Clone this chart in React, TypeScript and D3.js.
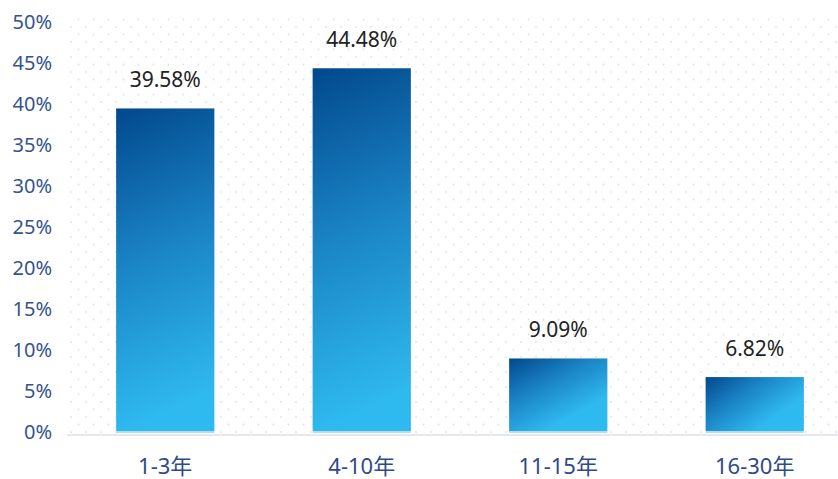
import { useEffect, useRef } from "react";
import * as d3 from "d3";

const categories = ["1-3年", "4-10年", "11-15年", "16-30年"];
const values = [39.58, 44.48, 9.09, 6.82];
const yTicks = [0, 5, 10, 15, 20, 25, 30, 35, 40, 45, 50];

const W = 838,
  H = 479;
const margin = { top: 23, left: 67, bottom: 46 };
const font = "'Noto Sans', 'Noto Sans CJK SC', sans-serif";

function App() {
  const svgRef = useRef(null);

  useEffect(() => {
    const svg = d3.select(svgRef.current);
    svg.selectAll("*").remove();

    const x = d3
      .scaleBand()
      .domain(categories)
      .range([margin.left, margin.left + 4 * 196.5])
      .paddingInner(0.5)
      .paddingOuter(0.25);
    const y = d3
      .scaleLinear()
      .domain([0, 50])
      .range([H - margin.bottom, margin.top]);

    const defs = svg.append("defs");
    const pat = defs
      .append("pattern")
      .attr("id", "dots")
      .attr("patternUnits", "userSpaceOnUse")
      .attr("width", 15)
      .attr("height", 15)
      .attr("x", margin.left + 3)
      .attr("y", margin.top + 3);
    pat.append("circle").attr("cx", 1).attr("cy", 1).attr("r", 0.9).attr("fill", "#dbe0e7");
    pat.append("circle").attr("cx", 8.5).attr("cy", 8.5).attr("r", 0.9).attr("fill", "#dbe0e7");

    // one gradient per bar: tall bars shade top-to-bottom, short ones diagonally
    values.forEach((v, i) => {
      const h = y(0) - y(v);
      const g = defs
        .append("linearGradient")
        .attr("id", "barGrad" + i)
        .attr("x1", 0)
        .attr("y1", 0)
        .attr("x2", Math.min(1, 45 / h))
        .attr("y2", Math.min(1, h / 90));
      g.append("stop").attr("offset", "0%").attr("stop-color", "#02488d");
      g.append("stop").attr("offset", "50%").attr("stop-color", "#1b85c6");
      g.append("stop").attr("offset", "100%").attr("stop-color", "#2fbaef");
    });

    // dotted background
    svg
      .append("rect")
      .attr("x", margin.left)
      .attr("y", margin.top - 5)
      .attr("width", W - margin.left)
      .attr("height", y(0) - margin.top + 5)
      .attr("fill", "url(#dots)");

    // y axis labels
    svg
      .append("g")
      .selectAll("text")
      .data(yTicks)
      .enter()
      .append("text")
      .attr("x", 52)
      .attr("y", (d) => y(d) + 1)
      .attr("text-anchor", "end")
      .attr("dominant-baseline", "middle")
      .attr("font-family", font)
      .attr("font-size", 20)
      .attr("fill", "#35548f")
      .text((d) => d + "%");

    // baseline
    svg
      .append("line")
      .attr("x1", margin.left)
      .attr("x2", W)
      .attr("y1", y(0) + 2)
      .attr("y2", y(0) + 2)
      .attr("stroke", "#e6e8eb")
      .attr("stroke-width", 2);

    // bars
    svg
      .selectAll("rect.bar")
      .data(values)
      .enter()
      .append("rect")
      .attr("class", "bar")
      .attr("x", (d, i) => x(categories[i]) as number)
      .attr("y", (d) => y(d))
      .attr("width", x.bandwidth())
      .attr("height", (d) => y(0) - y(d) - 2)
      .attr("fill", (d, i) => "url(#barGrad" + i + ")");

    svg
      .selectAll("rect.foot")
      .data(values)
      .enter()
      .append("rect")
      .attr("class", "foot")
      .attr("x", (d, i) => x(categories[i]) as number)
      .attr("y", y(0) - 2)
      .attr("width", x.bandwidth())
      .attr("height", 2)
      .attr("fill", "#b5dcf0");

    // value labels
    svg
      .selectAll("text.val")
      .data(values)
      .enter()
      .append("text")
      .attr("class", "val")
      .attr("x", (d, i) => (x(categories[i]) as number) + x.bandwidth() / 2)
      .attr("y", (d) => y(d) - 21)
      .attr("text-anchor", "middle")
      .attr("font-family", font)
      .attr("font-size", 21)
      .attr("fill", "#222")
      .text((d) => d.toFixed(2) + "%");

    // category labels
    svg
      .selectAll("text.cat")
      .data(categories)
      .enter()
      .append("text")
      .attr("class", "cat")
      .attr("x", (d) => (x(d) as number) + x.bandwidth() / 2)
      .attr("y", 474)
      .attr("text-anchor", "middle")
      .attr("font-family", font)
      .attr("font-size", 22)
      .attr("fill", "#2f4a88")
      .text((d) => d);
  }, []);

  return (
    <div style={{ position: "absolute", left: 0, top: 0 }}>
      <svg ref={svgRef} width={W} height={H} style={{ display: "block", background: "#fff" }}></svg>
    </div>
  );
}

export default App;
